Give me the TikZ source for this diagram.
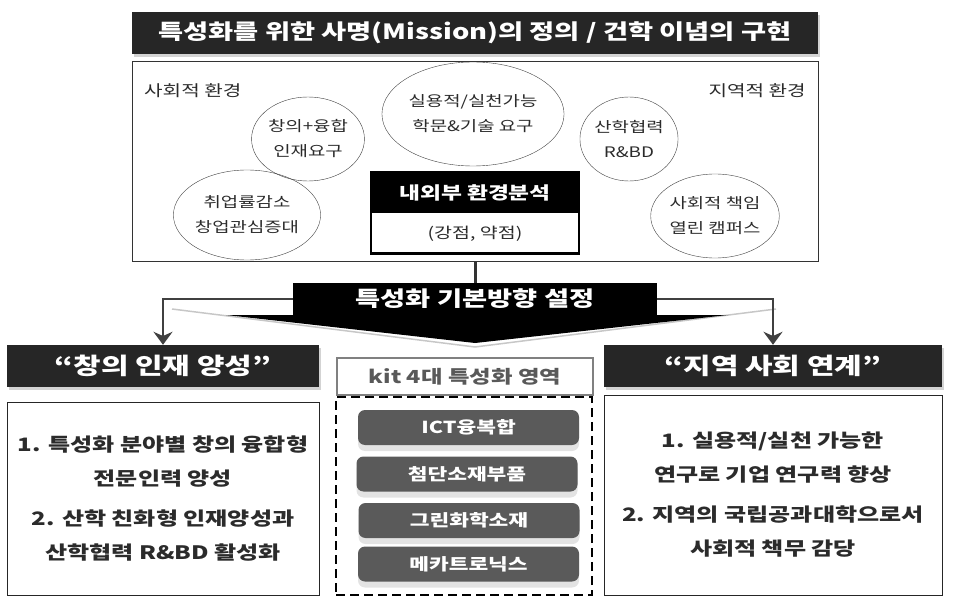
\documentclass[tikz,border=0pt]{standalone}
\usepackage{fontspec}
\setmainfont{Noto Sans CJK KR}[FakeStretch=1.3]
\usepackage{tikz}
\usetikzlibrary{arrows.meta, shapes.geometric, shadows}

\definecolor{barbg}{HTML}{262626}
\definecolor{tabbg}{HTML}{5A5A5A}
\definecolor{ink}{HTML}{2B2B2B}

\begin{document}
\begin{tikzpicture}[
  x=1pt, y=-1pt,
  darkbar/.style={rectangle, fill=barbg, text=white, inner sep=0pt,
    font=\bfseries\fontsize{21}{24}\selectfont,
    drop shadow={shadow xshift=2pt, shadow yshift=-3pt, opacity=0.35}},
  envtag/.style={inner sep=0pt, text=ink, font=\fontsize{15.5}{18}\selectfont},
  bubble/.style={draw=black!75, ellipse, inner sep=0pt, align=center, text=ink,
    font=\fontsize{14.5}{25}\selectfont},
  tab/.style={rounded corners=7pt, fill=tabbg, text=white, inner sep=0pt,
    minimum width=221, minimum height=35, font=\bfseries\fontsize{16.5}{20}\selectfont,
    drop shadow={shadow xshift=0pt, shadow yshift=-6pt, opacity=0.22}},
  goalbox/.style={draw=black!85, align=center, text=ink, inner sep=0pt,
    font=\bfseries\fontsize{18.5}{34}\selectfont},
  flow/.style={->, draw=black!75, line width=2.5pt},
  >={Stealth[length=13pt, width=19pt]}
]
\useasboundingbox (0,0) rectangle (962,607);

% Nodes
\node[darkbar, minimum width=686, minimum height=42] (title) at (475,33)
  {특성화를 위한 사명(Mission)의 정의 / 건학 이념의 구현};
\node[draw=black!80, minimum width=686, minimum height=200] (env) at (475,161) {};
\node[envtag, anchor=west] (social) at (144,91) {사회적 환경};
\node[envtag, anchor=east] (local) at (806,91) {지역적 환경};

\node[bubble, minimum width=94, minimum height=84] (talent) at (308,139) {창의+융합\\인재요구};
\node[bubble, minimum width=148, minimum height=104] (practice) at (473,114) {실용적/실천가능\\학문\&기술 요구};
\node[bubble, minimum width=96, minimum height=84] (rnd) at (629,139) {산학협력\\R\&BD};
\node[bubble, minimum width=114, minimum height=90] (jobs) at (247,215) {취업률감소\\창업관심증대};
\node[bubble, minimum width=116, minimum height=84] (campus) at (715,216) {사회적 책임\\열린 캠퍼스};

\node[fill=black, text=white, inner sep=0pt, minimum width=208, minimum height=41,
  font=\bfseries\fontsize{17.5}{20}\selectfont] (scan) at (475,192.5) {내외부 환경분석};
\node[fill=white, inner sep=0pt, minimum width=208, minimum height=40, anchor=north,
  text=ink, font=\fontsize{15}{18}\selectfont] (swot) at (scan.south) {(강점, 약점)};
\draw[line width=2.5pt] (scan.north west) rectangle (swot.south east);

% big arrow
\draw[black!22, line width=1.5pt] (172,309) -- (475,347) -- (776,309);
\node[fill=black, text=white, inner sep=0pt, minimum width=364, minimum height=32,
  font=\bfseries\fontsize{21}{22}\selectfont] (dir) at (475,299) {특성화 기본방향 설정};
\fill (226,315) -- (728,315) -- (475,343) -- cycle;

\node[darkbar, minimum width=312, minimum height=42, font=\bfseries\fontsize{23}{26}\selectfont]
  (create) at (163,366) {“창의 인재 양성”};
\node[darkbar, minimum width=338, minimum height=42, font=\bfseries\fontsize{23}{26}\selectfont]
  (region) at (773,366) {“지역 사회 연계”};

\node[draw=black!50, line width=2pt, text=black!65, inner sep=0pt, minimum width=256,
  minimum height=37, font=\bfseries\fontsize{18}{20}\selectfont] (kit) at (465,376.5) {kit 4대 특성화 영역};
\node[draw, dashed, dash pattern=on 9pt off 5pt, line width=1.5pt, minimum width=256,
  minimum height=198] (area) at (464,496) {};
\node[tab] (ict) at (468.5,427.5) {ICT융복합};
\node[tab] (parts) at (467,474) {첨단소재부품};
\node[tab] (green) at (469,520.5) {그린화학소재};
\node[tab] (mecha) at (468.5,564) {메카트로닉스};

\node[goalbox, minimum width=312, minimum height=193] (createbox) at (163,498.5)
  {1. 특성화 분야별 창의 융합형\\전문인력 양성\\[6pt]2. 산학 친화형 인재양성과\\산학협력 R\&BD 활성화};
\node[goalbox, minimum width=338, minimum height=200] (regionbox) at (773,495)
  {1. 실용적/실천 가능한\\연구로 기업 연구력 향상\\[6pt]2. 지역의 국립공과대학으로서\\사회적 책무 감당};

% Connections
\draw[line width=3pt, black!80] (env.south) -- (dir.north);
\draw[flow] (dir.west) -| (create.north);
\draw[flow] (dir.east) -| (region.north);

\end{tikzpicture}
\end{document}
